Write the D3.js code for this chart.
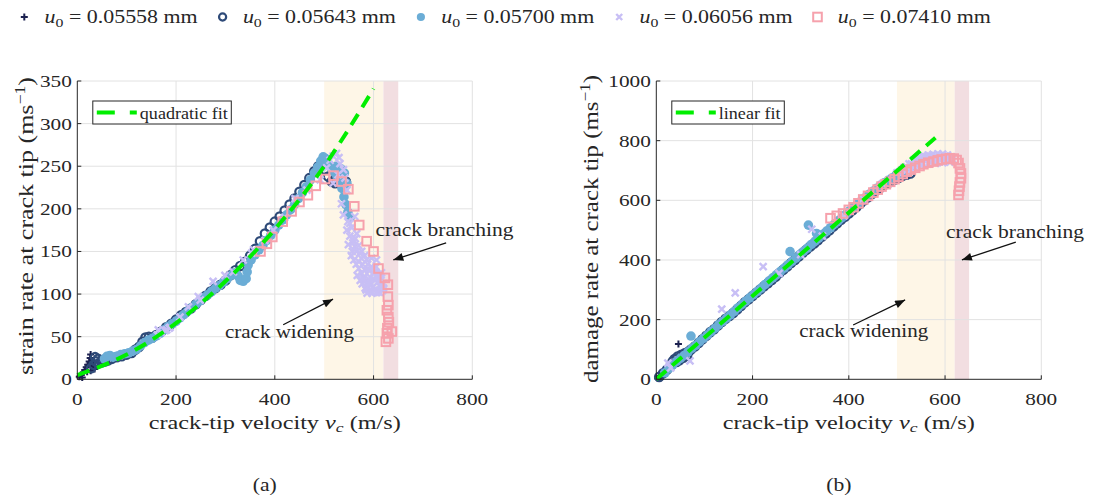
<!DOCTYPE html>
<html><head><meta charset="utf-8">
<script src="https://cdn.jsdelivr.net/npm/d3@7"></script>
<style>
body{margin:0;background:#fff}
text{font-family:"Liberation Serif","Times New Roman",serif;fill:#262626}
</style></head>
<body><svg id="c" width="1097" height="498"></svg>
<script>
// ---------- data ----------
const seriesLabels = ["0.05558","0.05643","0.05700","0.06056","0.07410"];
const xTicks = [0,200,400,600,800];
const yTicksStrain = [0,50,100,150,200,250,300,350];
const yTicksDamage = [0,200,400,600,800,1000];
const widenBand = [500,620];
const branchBand = [620,650];
const quadFit = [[0,5],[100,29],[200,66],[300,115],[400,176],[500,250],[600,341]];
const linFit = [[0,0],[580,810]];

const strainS1 = [[4,3],[8,5],[12,8],[15,11],[18,14],[21,17],[24,21],[26,25],[27,29],[29,19],[32,15],[35,12],[20,9],[27,10],[10,2]];
const strainS2 = [[28,13],[33,17],[38,21],[42,24],[36,26],[44,19],[50,20],[56,21],[62,22],[70,24],[80,26],[90,27],[100,29],[110,31],[118,35],[125,38],[132,44],[138,49],[145,50],[152,49],[160,52],[170,56],[180,61],[190,65],[200,70],[210,75],[220,79],[230,83],[240,88],[250,93],[260,98],[270,103],[280,107],[290,111],[300,116],[310,122],[320,128],[330,133],[340,138],[350,145],[360,153],[370,162],[380,171],[390,178],[400,185],[410,191],[420,198],[430,205],[440,212],[450,220],[460,228],[470,236],[480,244],[488,250],[495,252],[502,246],[508,238],[515,232],[522,230],[530,234],[538,236],[544,232]];
const strainS3 = [[55,24],[60,27],[66,28],[72,26],[80,27],[88,29],[96,30],[104,31],[112,33],[120,35],[128,39],[136,43],[144,46],[152,48],[160,51],[168,54],[176,58],[184,62],[192,65],[200,68],[208,72],[216,76],[224,80],[232,84],[240,88],[248,92],[256,96],[264,99],[272,103],[280,107],[288,110],[296,114],[304,118],[312,122],[320,125],[326,121],[330,116],[336,115],[342,118],[344,126],[346,134],[352,140],[360,146],[368,152],[376,157],[384,163],[392,169],[400,175],[408,181],[416,187],[424,193],[432,199],[440,205],[448,212],[456,219],[464,226],[472,234],[480,242],[487,249],[493,256],[498,261],[503,259],[508,253],[514,248],[520,243],[526,238],[532,232],[536,224],[540,214],[544,205],[548,196],[552,189],[546,230],[541,242],[534,247],[524,250]];
const strainS4 = [[162,52],[170,55],[178,57],[186,60],[164,58],[181,58],[188,61],[208,73],[225,85],[245,97],[249,93],[275,115],[299,122],[316,126],[336,140],[353,148],[357,152],[380,163],[397,175],[420,190],[441,212],[465,222],[492,234],[505,248],[512,257],[518,262],[525,265],[530,260],[532,253],[539,246],[542,236],[546,222],[518,230],[528,240],[535,206],[539,193],[546,175],[552,183],[559,163],[562,191],[566,171],[549,158],[562,156],[576,150],[586,140],[583,128],[596,132],[589,113],[600,109],[613,109],[613,124],[606,140],[593,120],[583,107],[620,107],[573,116],[570,138],[580,120],[590,128],[600,118],[610,115],[604,126],[596,142],[585,105],[595,103],[605,102],[615,116],[578,135],[557,150],[555,145],[560,140],[565,135],[570,130],[575,125],[580,118],[585,112],[590,108],[595,112],[600,125],[605,132],[610,122],[615,110],[618,104],[612,102],[602,105],[592,116],[582,145],[572,148],[565,150],[558,160],[552,168],[548,185],[556,178],[563,165],[570,157],[575,142],[588,135],[598,130],[608,118],[616,125],[620,112],[567,122],[577,112],[587,101],[597,101],[607,102]];
const strainS5 = [[371,150],[384,159],[395,167],[416,185],[434,197],[450,208],[467,216],[483,227],[502,235],[519,239],[535,232],[549,223],[561,203],[571,181],[586,162],[600,150],[610,130],[623,119],[629,111],[629,97],[630,87],[627,81],[630,73],[631,67],[628,60],[637,56],[627,54],[630,48],[625,44]];

const damageS1 = [[3,3],[6,7],[9,12],[12,16],[15,21],[18,25],[8,3],[13,9],[46,118],[20,30]];
const damageS2 = [[6,8],[14,20],[22,32],[30,46],[34,60],[38,68],[42,58],[44,76],[48,64],[52,82],[56,72],[60,88],[64,80],[68,94],[72,100],[80,110],[88,122],[96,134],[104,146],[112,158],[120,168],[128,180],[136,192],[144,203],[152,212],[160,222],[168,234],[176,246],[184,258],[192,268],[200,279],[208,290],[216,301],[224,312],[232,322],[240,333],[248,344],[256,356],[264,367],[272,378],[280,390],[288,400],[296,412],[304,423],[312,434],[320,445],[328,455],[336,466],[344,478],[352,489],[360,500],[368,512],[376,523],[384,535],[392,545],[400,556],[408,567],[416,578],[424,589],[432,600],[440,610],[448,621],[456,632],[464,640],[472,650],[480,656],[488,662],[496,670],[504,676],[512,682],[520,686],[528,690]];
const damageS3 = [[18,22],[26,36],[34,48],[42,60],[50,70],[58,80],[66,92],[72,145],[74,104],[82,114],[90,126],[98,137],[106,148],[114,160],[122,171],[130,183],[138,194],[146,205],[154,216],[162,228],[170,240],[178,251],[186,262],[194,273],[202,284],[210,295],[218,306],[226,318],[234,329],[242,340],[250,351],[258,362],[266,373],[274,384],[278,428],[282,395],[290,406],[298,418],[306,429],[314,440],[316,517],[322,452],[330,463],[333,489],[338,474],[346,486],[354,497],[362,508],[370,520],[378,531],[386,542],[394,553],[402,565],[410,576],[418,587],[426,598],[434,609],[442,620],[450,630],[458,640],[466,650],[474,659],[482,667],[490,675],[498,684],[506,690],[514,695]];
const damageS4 = [[24,54],[30,38],[70,62],[136,235],[164,290],[222,378],[323,503],[255,355],[300,418],[345,480],[390,548],[430,605],[470,655],[500,692],[515,710],[525,722],[535,735],[545,745],[555,750],[565,752],[575,754],[585,756],[595,755],[605,752],[613,746],[540,716],[555,722],[570,726],[585,728],[600,730],[612,732],[530,705],[550,735],[575,742],[600,742],[520,712],[530,722],[540,730],[550,740],[560,746],[570,748],[580,750],[590,750],[600,748],[610,744],[545,725],[560,732],[575,736],[590,738],[605,738],[615,738],[520,700],[535,712],[550,718],[565,722],[580,724],[595,726],[610,728],[510,702],[505,695]];
const damageS5 = [[362,540],[375,548],[388,556],[400,568],[410,577],[420,590],[430,603],[440,615],[451,626],[460,636],[468,646],[477,654],[486,662],[495,671],[503,679],[512,688],[520,696],[529,703],[538,709],[547,715],[555,721],[565,726],[576,730],[585,734],[593,737],[602,739],[610,741],[618,740],[624,735],[628,725],[631,707],[633,690],[633,674],[631,660],[630,646],[629,632],[628,618]];

// ---------- styles ----------
const colors = ["#1c2150","#2e4a78","#6badd6","#c8bff5","#f6a1ac"];
const shapes = ["plus","ocircle","dot","cross","square"];
const svg = d3.select("#c");

function marker(sel, shape, color, big){
  const k = big ? 1 : 0.85;
  if(shape==="plus") sel.append("path").attr("d","M-3.5,0H3.5M0,-3.5V3.5").attr("stroke",color).attr("stroke-width",2).attr("fill","none");
  else if(shape==="ocircle") sel.append("circle").attr("r",4.2*k).attr("fill","none").attr("stroke",color).attr("stroke-width",2.2);
  else if(shape==="dot") sel.append("circle").attr("r",4.8*k).attr("fill",color);
  else if(shape==="cross") sel.append("path").attr("d",`M-${3.5*k},-${3.5*k}L${3.5*k},${3.5*k}M-${3.5*k},${3.5*k}L${3.5*k},-${3.5*k}`).attr("stroke",color).attr("stroke-width",2.4).attr("fill","none");
  else sel.append("rect").attr("x",-4.3).attr("y",-4.3).attr("width",8.6).attr("height",8.6).attr("fill","none").attr("stroke",color).attr("stroke-width",2);
}

svg.append("defs").append("marker").attr("id","ah").attr("viewBox","0 0 10 8")
  .attr("refX",10).attr("refY",4).attr("markerWidth",11).attr("markerHeight",8)
  .attr("markerUnits","userSpaceOnUse").attr("orient","auto")
  .append("path").attr("d","M0,0L10,4L0,8z").attr("fill","#111");

function hText(g, x, y, str, size, anchor, len){
  const t = g.append("text").attr("x",x).attr("y",y).attr("font-size",size).attr("text-anchor",anchor||"start").text(str);
  if(len) t.attr("textLength",len).attr("lengthAdjust","spacingAndGlyphs");
  return t;
}

function panel(o){
  const x = d3.scaleLinear().domain([0,800]).range([o.x0,o.x1]);
  const y = d3.scaleLinear().domain([0,o.ymax]).range([o.y1,o.y0]);
  const g = svg.append("g");
  g.append("rect").attr("x",x(widenBand[0])).attr("y",o.y0).attr("width",x(widenBand[1])-x(widenBand[0])).attr("height",o.y1-o.y0).attr("fill","#fef6e7");
  g.append("rect").attr("x",x(branchBand[0])).attr("y",o.y0).attr("width",x(branchBand[1])-x(branchBand[0])).attr("height",o.y1-o.y0).attr("fill","#f2dee1");
  g.selectAll(".gx").data(xTicks.slice(1)).join("line").attr("x1",d=>x(d)).attr("x2",d=>x(d)).attr("y1",o.y0).attr("y2",o.y1).attr("stroke","#e2e2e2");
  g.selectAll(".gy").data(o.yTicks.slice(1)).join("line").attr("y1",d=>y(d)).attr("y2",d=>y(d)).attr("x1",o.x0).attr("x2",o.x1).attr("stroke","#e2e2e2");
  o.series.forEach((s,i)=>{
    g.append("g").selectAll("g").data(s).join("g")
      .attr("transform",d=>`translate(${x(d[0])},${y(d[1])})`)
      .each(function(){ marker(d3.select(this), shapes[i], colors[i], true); });
  });
  g.append("path").datum(o.fit).attr("d",d3.line().x(d=>x(d[0])).y(d=>y(d[1])).curve(d3.curveMonotoneX))
    .attr("fill","none").attr("stroke","#00ee00").attr("stroke-width",4).attr("stroke-dasharray","13,8");
  g.append("line").attr("x1",o.x0).attr("x2",o.x1).attr("y1",o.y1).attr("y2",o.y1).attr("stroke","#262626");
  g.append("line").attr("x1",o.x0).attr("x2",o.x0).attr("y1",o.y0).attr("y2",o.y1).attr("stroke","#262626");
  xTicks.forEach(t=>{
    g.append("line").attr("x1",x(t)).attr("x2",x(t)).attr("y1",o.y1).attr("y2",o.y1-4).attr("stroke","#262626");
    g.append("text").attr("transform",`translate(${x(t)},405) scale(1.25,1)`).attr("text-anchor","middle").attr("font-size",17).text(t);
  });
  o.yTicks.forEach(t=>{
    g.append("line").attr("x1",o.x0).attr("x2",o.x0+4).attr("y1",y(t)).attr("y2",y(t)).attr("stroke","#262626");
    g.append("text").attr("transform",`translate(${o.x0-5.5},${y(t)+6}) scale(1.25,1)`).attr("text-anchor","end").attr("font-size",17).text(t);
  });
  const xl = g.append("text").attr("x",(o.x0+o.x1)/2).attr("y",428.5).attr("font-size",18).attr("text-anchor","middle")
    .attr("textLength",252).attr("lengthAdjust","spacingAndGlyphs");
  xl.append("tspan").text("crack-tip velocity ");
  xl.append("tspan").attr("font-style","italic").text("v");
  xl.append("tspan").attr("font-style","italic").attr("font-size",13).attr("dy",3).text("c");
  xl.append("tspan").attr("dy",-3).text(" (m/s)");
  const yl = g.append("text").attr("transform",`translate(${o.ylx},${o.ylc}) scale(1.1,1) rotate(-90)`)
    .attr("font-size",19).attr("text-anchor","middle").attr("textLength",o.ylen).attr("lengthAdjust","spacingAndGlyphs");
  yl.append("tspan").text(o.ylabel+" (ms");
  yl.append("tspan").attr("font-size",13).attr("dy",-7).text("\u22121");
  yl.append("tspan").attr("dy",7).text(")");
  const lg = g.append("g");
  lg.append("rect").attr("x",o.x0+15.5).attr("y",101).attr("width",o.legW).attr("height",23).attr("fill","#fff").attr("stroke","#262626").attr("stroke-width",1);
  lg.append("line").attr("x1",o.x0+19.5).attr("x2",o.x0+59.5).attr("y1",112.5).attr("y2",112.5).attr("stroke","#00ee00").attr("stroke-width",4).attr("stroke-dasharray","18,15");
  hText(lg, o.x0+62.5, 118.5, o.fitName, 17, "start", o.fitLen);
  const an = g.append("g");
  o.arrows.forEach(a=>{
    an.append("line").attr("x1",x(a[0])).attr("y1",y(a[1])).attr("x2",x(a[2])).attr("y2",y(a[3])).attr("stroke","#111").attr("stroke-width",1.3).attr("marker-end","url(#ah)");
  });
  hText(an, x(o.branchPos[0]), y(o.branchPos[1]), "crack branching", 18, "start", 138);
  hText(an, x(o.widenPos[0]), y(o.widenPos[1]), "crack widening", 18, "start", 129);
  svg.append("text").attr("transform",`translate(${(o.x0+o.x1)/2-10},491) scale(1.2,1)`).attr("text-anchor","middle").attr("font-size",18).text(o.caption);
}

panel({x0:77.3,x1:472.3,y0:81,y1:379.3,ymax:350,yTicks:yTicksStrain,
  series:[strainS1,strainS2,strainS3,strainS4,strainS5], fit:quadFit,
  ylabel:"strain rate at crack tip", ylx:33, ylc:226, ylen:298,
  fitName:"quadratic fit", fitLen:88, legW:138.5,
  arrows:[[747,160,640,140],[417,64,518,94]], branchPos:[604,168], widenPos:[299,48.6], caption:"(a)"});

panel({x0:656.3,x1:1041.3,y0:81,y1:379.3,ymax:1000,yTicks:yTicksDamage,
  series:[damageS1,damageS2,damageS3,damageS4,damageS5], fit:linFit,
  ylabel:"damage rate at crack tip", ylx:598, ylc:229, ylen:308,
  fitName:"linear fit", fitLen:61.7, legW:112.5,
  arrows:[[747,460,635,400],[409,182,517,266]], branchPos:[602,473], widenPos:[297,142], caption:"(b)"});

const tl = svg.append("g");
seriesLabels.forEach((lab,i)=>{
  const mx = 24.3 + i*198.3;
  const m = tl.append("g").attr("transform",`translate(${mx},17)`);
  marker(m, shapes[i], colors[i], false);
  const t = tl.append("text").attr("x",mx+20.3).attr("y",23).attr("font-size",18)
    .attr("textLength",153).attr("lengthAdjust","spacingAndGlyphs");
  t.append("tspan").attr("font-style","italic").text("u");
  t.append("tspan").attr("font-size",13).attr("dy",4).text("0");
  t.append("tspan").attr("dy",-4).text(" = "+lab+" mm");
});
</script></body></html>
